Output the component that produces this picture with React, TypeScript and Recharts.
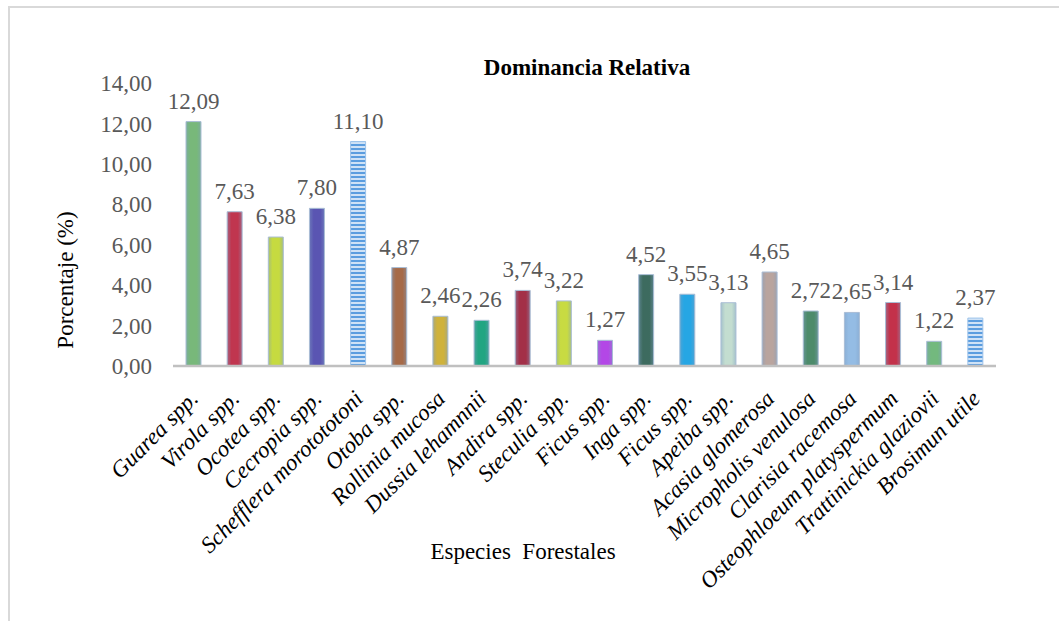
import React from "react";
import { BarChart, Bar, XAxis, YAxis, Cell, LabelList } from "recharts";

// Species names (x categories)
const species = [
  "Guarea spp.",
  "Virola spp.",
  "Ocotea spp.",
  "Cecropia spp.",
  "Schefflera morotototoni",
  "Otoba spp.",
  "Rollinia mucosa",
  "Dussia lehamnnii",
  "Andira spp.",
  "Steculia spp.",
  "Ficus spp.",
  "Inga spp.",
  "Ficus spp.",
  "Apeiba spp.",
  "Acasia glomerosa",
  "Micropholis venulosa",
  "Clarisia racemosa",
  "Osteophloeum platyspermum",
  "Trattinickia glaziovii",
  "Brosimun utile",
];

// Relative dominance (%) per species
const dominance = [
  12.09, 7.63, 6.38, 7.8, 11.1, 4.87, 2.46, 2.26, 3.74, 3.22, 1.27, 4.52, 3.55,
  3.13, 4.65, 2.72, 2.65, 3.14, 1.22, 2.37,
];

// Y axis ticks
const yTicks = [0, 2, 4, 6, 8, 10, 12, 14];

// Bar fills; "stripes" uses the striped pattern
const barColors = [
  "#78b87a",
  "#c0364f",
  "#c6da40",
  "#5a55b2",
  "stripes",
  "#a66a48",
  "#cfb23c",
  "#22a582",
  "#a33048",
  "#c8db42",
  "#b347e6",
  "#3d6b5f",
  "#26a6e4",
  "#c3ddd0",
  "#b9a49e",
  "#4d8b6b",
  "#94bce4",
  "#c3314a",
  "#73b97e",
  "stripes",
];

const data = species.map((name, i) => ({ name, value: dominance[i] }));

const FONT = "'Liberation Serif', 'Times New Roman', serif";

const fmt = (v: number) => v.toFixed(2).replace(".", ",");

function mix(hex: string, other: string, t: number): string {
  const p = (h: string) => [1, 3, 5].map((k) => parseInt(h.slice(k, k + 2), 16));
  const a = p(hex);
  const b = p(other);
  const c = a.map((v, i) => Math.round(v * (1 - t) + b[i] * t));
  return "#" + c.map((v) => v.toString(16).padStart(2, "0")).join("");
}

const CategoryTick = (props: any) => {
  const { x, y, payload } = props;
  return (
    <g transform={`translate(${x + 6},${y + 34})`}>
      <text
        textAnchor="end"
        transform="rotate(-45)"
        fontFamily={FONT}
        fontStyle="italic"
        fontSize={23}
        fill="#000"
      >
        {payload.value}
      </text>
    </g>
  );
};

const ValueLabel = (props: any) => {
  const { x, y, width, value } = props;
  return (
    <text
      x={x + width / 2}
      y={y - 13}
      textAnchor="middle"
      fontFamily={FONT}
      fontSize={23}
      fill="#595959"
    >
      {fmt(value)}
    </text>
  );
};

export default function App() {
  return (
    <div
      style={{
        position: "fixed",
        left: 0,
        top: 0,
        width: 1059,
        height: 621,
        overflow: "hidden",
        background: "#fff",
      }}
    >
      <div
        style={{
          position: "absolute",
          left: 8,
          top: 6,
          width: 1200,
          height: 800,
          borderLeft: "2px solid #d9d9d9",
          borderTop: "2px solid #d9d9d9",
        }}
      />
      <div style={{ position: "absolute", left: 0, top: 0 }}>
        <BarChart
          width={1059}
          height={621}
          data={data}
          margin={{ top: 83, right: 63, bottom: 0, left: 0 }}
        >
          <defs>
            {barColors.map((c, i) =>
              c === "stripes" ? (
                <pattern
                  key={i}
                  id={`fill-${i}`}
                  patternUnits="userSpaceOnUse"
                  width={15}
                  height={4}
                >
                  <rect x={0} y={0} width={15} height={4} fill="#cfe2f6" />
                  <rect x={0} y={0} width={15} height={2} fill="#5b9ddf" />
                </pattern>
              ) : (
                <linearGradient key={i} id={`fill-${i}`} x1="0" y1="0" x2="1" y2="0">
                  <stop offset="0%" stopColor={mix(c, "#7f9fc2", 0.45)} />
                  <stop offset="28%" stopColor={c} />
                  <stop offset="72%" stopColor={c} />
                  <stop offset="100%" stopColor={mix(c, "#7f9fc2", 0.45)} />
                </linearGradient>
              )
            )}
          </defs>
          <XAxis
            dataKey="name"
            interval={0}
            height={255}
            tickLine={false}
            tickSize={0}
            tickMargin={0}
            axisLine={{ stroke: "#c0c0c0", strokeWidth: 2.5 }}
            tick={<CategoryTick />}
          />
          <YAxis
            width={173}
            domain={[0, 14]}
            ticks={yTicks}
            axisLine={false}
            tickLine={false}
            tickSize={0}
            tickMargin={21}
            tickFormatter={fmt}
            tick={{ fontFamily: FONT, fontSize: 23, fill: "#595959" }}
          />
          <Bar dataKey="value" barSize={15} isAnimationActive={false}>
            {data.map((_, i) => (
              <Cell
                key={i}
                fill={`url(#fill-${i})`}
                stroke={barColors[i] === "stripes" ? "#9cc3ea" : "#a9bdd5"}
                strokeWidth={1}
              />
            ))}
            <LabelList dataKey="value" content={<ValueLabel />} />
          </Bar>
          <text
            x={587}
            y={75}
            textAnchor="middle"
            fontFamily={FONT}
            fontWeight="bold"
            fontSize={23}
            fill="#000"
          >
            Dominancia Relativa
          </text>
          <text
            x={523}
            y={559}
            textAnchor="middle"
            fontFamily={FONT}
            fontSize={23}
            fill="#000"
            style={{ whiteSpace: "pre" }}
          >
            {"Especies  Forestales"}
          </text>
          <text
            x={73}
            y={280}
            textAnchor="middle"
            fontFamily={FONT}
            fontSize={23}
            fill="#000"
            transform="rotate(-90 73 280)"
          >
            Porcentaje (%)
          </text>
        </BarChart>
      </div>
    </div>
  );
}
